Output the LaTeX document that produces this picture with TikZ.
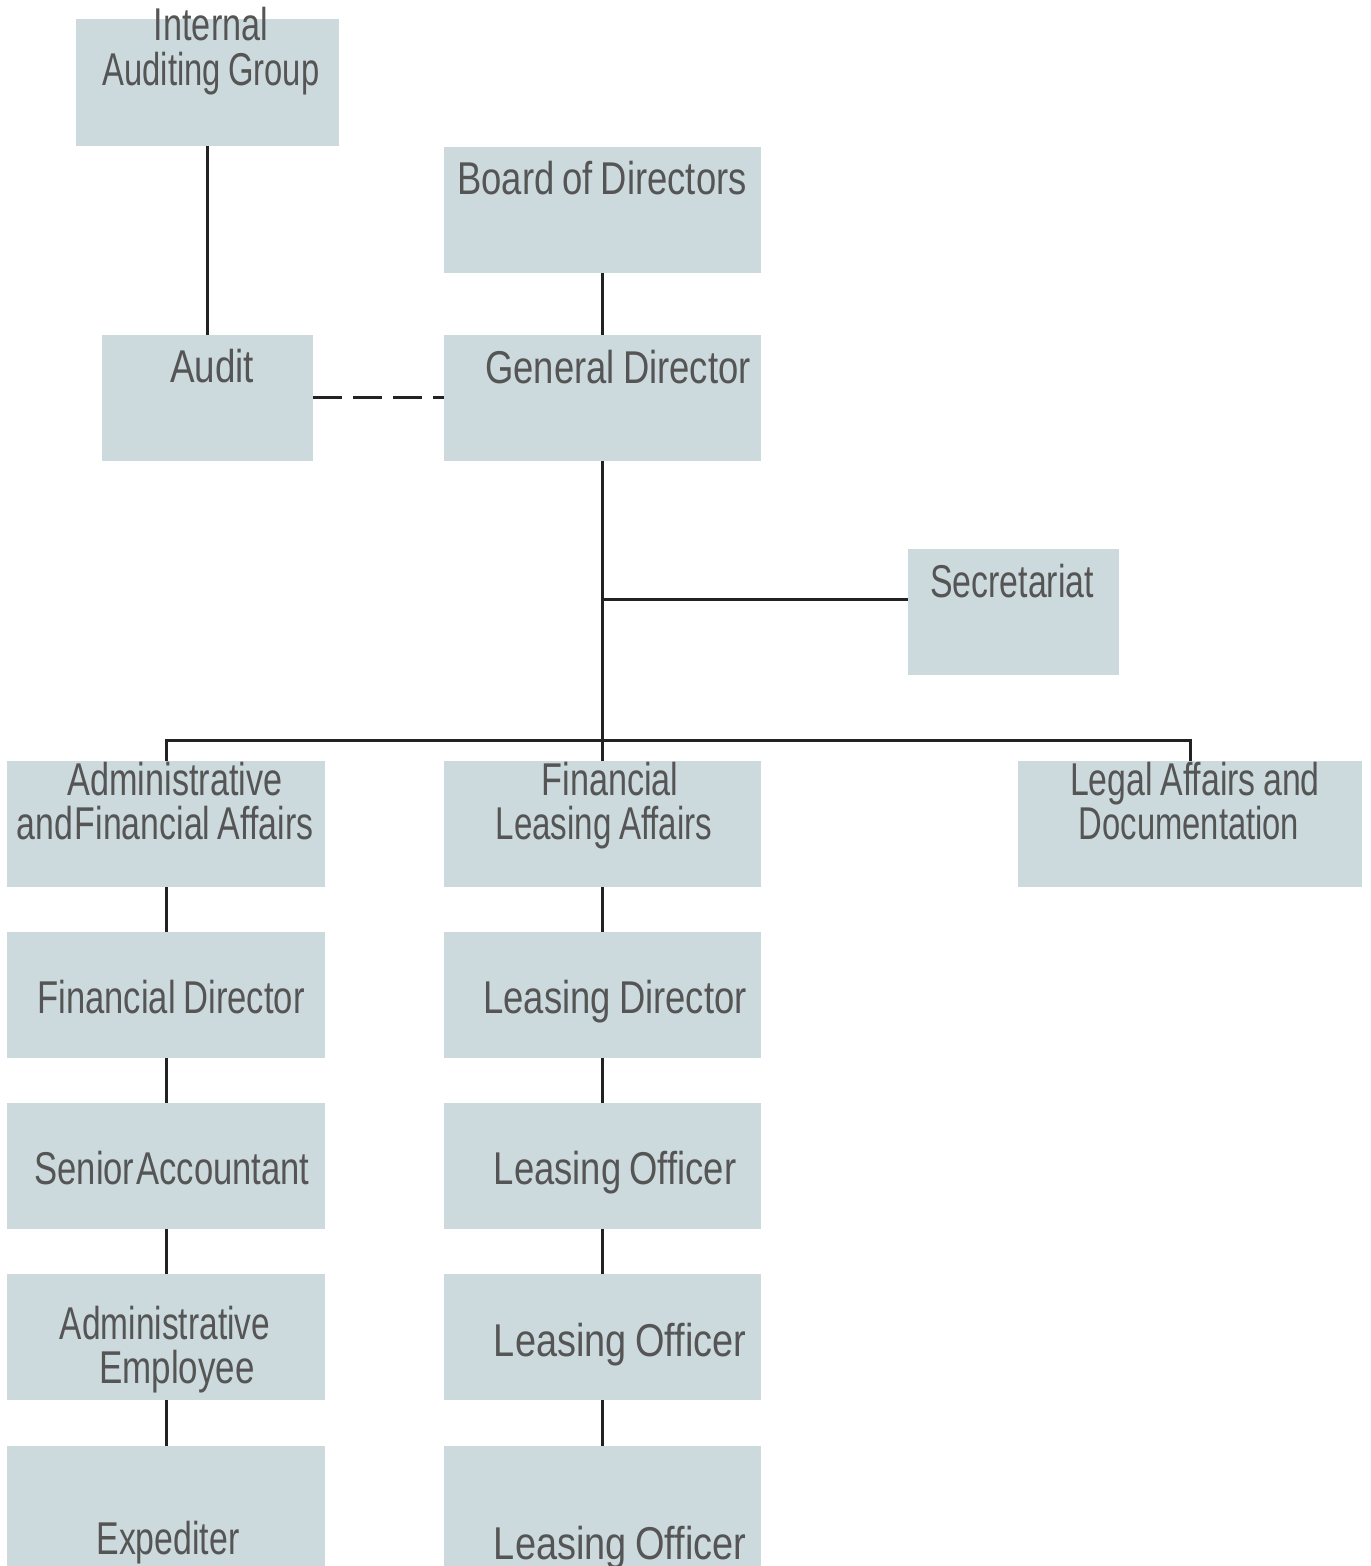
\documentclass[tikz,border=0pt]{standalone}
\usepackage{fontspec}
\setmainfont{Liberation Sans}[FakeStretch=0.8,WordSpace=0.8]
\usetikzlibrary{fit}
\definecolor{boxfill}{HTML}{CCDADD}
\definecolor{txtcol}{HTML}{555555}
\definecolor{linecol}{HTML}{222222}
\newcommand{\sq}[2]{\scalebox{#1}[1]{#2}}
\begin{document}
\begin{tikzpicture}[x=0.5pt,y=-0.5pt,
  box/.style={fill=boxfill,draw=none,inner sep=0pt},
  txt/.style={text=txtcol,font=\fontsize{23}{22}\selectfont,anchor=base,inner sep=0pt,align=center},
  conn/.style={draw=linecol,line width=1.5pt},
  dconn/.style={draw=linecol,line width=1.5pt,dash pattern=on 14.5pt off 5.5pt}]
\useasboundingbox (0,0) rectangle (1370,1566);
% boxes
\node[box,fit={(76,19) (339,146)}] (iag) {};
\node[box,fit={(444,147) (761,273)}] (bod) {};
\node[box,fit={(102,335) (313,461)}] (aud) {};
\node[box,fit={(444,335) (761,461)}] (gd) {};
\node[box,fit={(908,549) (1119,675)}] (sec) {};
\node[box,fit={(7,761) (325,887)}] (afa) {};
\node[box,fit={(444,761) (761,887)}] (fla) {};
\node[box,fit={(1018,761) (1362,887)}] (lad) {};
\node[box,fit={(7,932) (325,1058)}] (fd) {};
\node[box,fit={(444,932) (761,1058)}] (ld) {};
\node[box,fit={(7,1103) (325,1229)}] (sa) {};
\node[box,fit={(444,1103) (761,1229)}] (lo1) {};
\node[box,fit={(7,1274) (325,1400)}] (ae) {};
\node[box,fit={(444,1274) (761,1400)}] (lo2) {};
\node[box,fit={(7,1446) (325,1580)}] (exp) {};
\node[box,fit={(444,1446) (761,1580)}] (lo3) {};
% texts
\node[txt] (iagt1) at (211,41) {\sq{0.93}{Internal}};
\node[txt] (iagt2) at (211,86) {\sq{0.89}{Auditing Group}};
\node[txt] (bodt) at (602,195) {\sq{0.99}{Board of Directors}};
\node[txt] (audt) at (212,383) {Audit};
\node[txt] (gdt) at (618,384) {\sq{0.99}{General Director}};
\node[txt] (sect) at (1012,597) {\sq{0.92}{Secretariat}};
\node[txt] (afat1) at (175,795) {\sq{0.93}{Administrative}};
\node[txt] (afat2) at (165,839) {\sq{0.92}{and\hspace{1pt}Financial Affairs}};
\node[txt] (flat1) at (610,795) {\sq{0.93}{Financial}};
\node[txt] (flat2) at (604,839) {\sq{0.9}{Leasing Affairs}};
\node[txt] (ladt1) at (1195,795) {\sq{0.92}{Legal Affairs and}};
\node[txt] (ladt2) at (1189,839) {\sq{0.89}{Documentation}};
\node[txt] (fdt) at (171,1013) {\sq{0.94}{Financial Director}};
\node[txt] (ldt) at (615,1013) {\sq{0.99}{Leasing Director}};
\node[txt] (sat) at (172,1184) {\sq{0.94}{Senior\hspace{1pt}Accountant}};
\node[txt] (lo1t) at (615,1184) {\sq{0.99}{Leasing Officer}};
\node[txt] (aet1) at (165,1339) {\sq{0.91}{Administrative}};
\node[txt] (aet2) at (177,1383) {\sq{0.95}{Employee}};
\node[txt] (lo2t) at (620,1356) {\sq{1.03}{Leasing Officer}};
\node[txt] (expt) at (168,1554) {\sq{0.92}{Expediter}};
\node[txt] (lo3t) at (620,1559) {\sq{1.03}{Leasing Officer}};
% connectors
\draw[conn] (iag.south) -- (aud.north);
\draw[conn] (bod.south) -- (gd.north);
\draw[dconn] (aud.east) -- (gd.west);
\draw[conn] (gd.south) -- (fla.north);
\coordinate (secj) at (602.5,599);
\coordinate (bus) at (602.5,740);
\draw[conn] (secj) -- (secj -| sec.west);
\draw[conn] (afa.north) |- (lad.north |- bus) -- (lad.north);
\draw[conn] (afa.south) -- (fd.north);
\draw[conn] (fd.south) -- (sa.north);
\draw[conn] (sa.south) -- (ae.north);
\draw[conn] (ae.south) -- (exp.north);
\draw[conn] (fla.south) -- (ld.north);
\draw[conn] (ld.south) -- (lo1.north);
\draw[conn] (lo1.south) -- (lo2.north);
\draw[conn] (lo2.south) -- (lo3.north);
\end{tikzpicture}
\end{document}
